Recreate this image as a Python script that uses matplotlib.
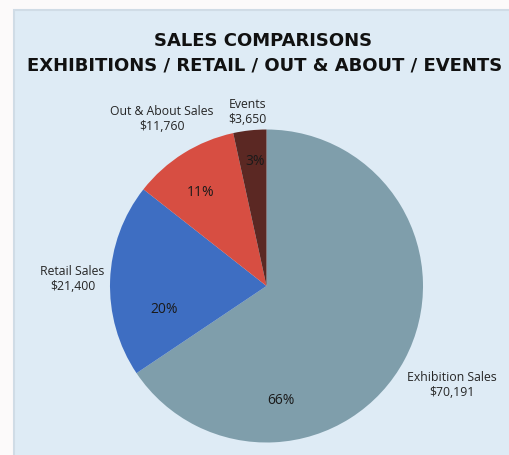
import matplotlib.pyplot as plt
import numpy as np
from matplotlib.patches import Rectangle

names = ['Exhibition Sales', 'Retail Sales', 'Out & About Sales', 'Events']
sales = [70191, 21400, 11760, 3650]
colors = ['#7f9eab', '#3e6ec2', '#d74e42', '#5b2823']

# label placement (in radii, and angle for the percentages)
name_dist = [1.34, 1.24, 1.26, 1.12]
pct_dist = [0.735, 0.67, 0.73, 0.80]
pct_angle = [-83, 193, 125, 95]

W, H = 509, 455
fig = plt.figure(figsize=(W / 100, H / 100), dpi=100)
fig.patch.set_facecolor('#fcfafa')

ax = fig.add_axes([0, 0, 1, 1])

cx, cy, r = 266.5, H - 286, 156.5
wedges, _ = ax.pie(sales, colors=colors, startangle=90, counterclock=False,
                   center=(cx, cy), radius=r, frame=True,
                   wedgeprops=dict(linewidth=0))
ax.set_xlim(0, W)
ax.set_ylim(0, H)
ax.set_aspect('equal')
ax.axis('off')

# panel behind the chart
ax.add_patch(Rectangle((14.5, -5), W, H - 9.5 + 5, facecolor='#deebf5',
                       edgecolor='#d0dce6', lw=1.5, zorder=0))

total = sum(sales)
lab_font = ['Open Sans', 'DejaVu Sans']
for w, name, val, nd, pd, pa in zip(wedges, names, sales, name_dist,
                                    pct_dist, pct_angle):
    a = np.deg2rad(pa)
    ax.text(cx + pd * r * np.cos(a), cy + pd * r * np.sin(a),
            f'{val / total:.0%}', ha='center', va='center', fontsize=10,
            color='#1a1a1a', family=lab_font)
    ang = np.deg2rad((w.theta1 + w.theta2) / 2)
    ax.text(cx + nd * r * np.cos(ang), cy + nd * r * np.sin(ang),
            f'{name}\n${val:,}', ha='center', va='center', fontsize=8.8,
            color='#262626', family=lab_font, linespacing=1.2)

title_kw = dict(ha='center', va='center', fontsize=13, color='#111111',
                family=['DejaVu Sans'], fontweight='bold')
ax.text(263, H - 41, 'SALES COMPARISONS', **title_kw)
ax.text(265, H - 65, 'EXHIBITIONS / RETAIL / OUT & ABOUT / EVENTS', **title_kw)

fig.savefig('out.png', dpi=100, facecolor=fig.get_facecolor())
